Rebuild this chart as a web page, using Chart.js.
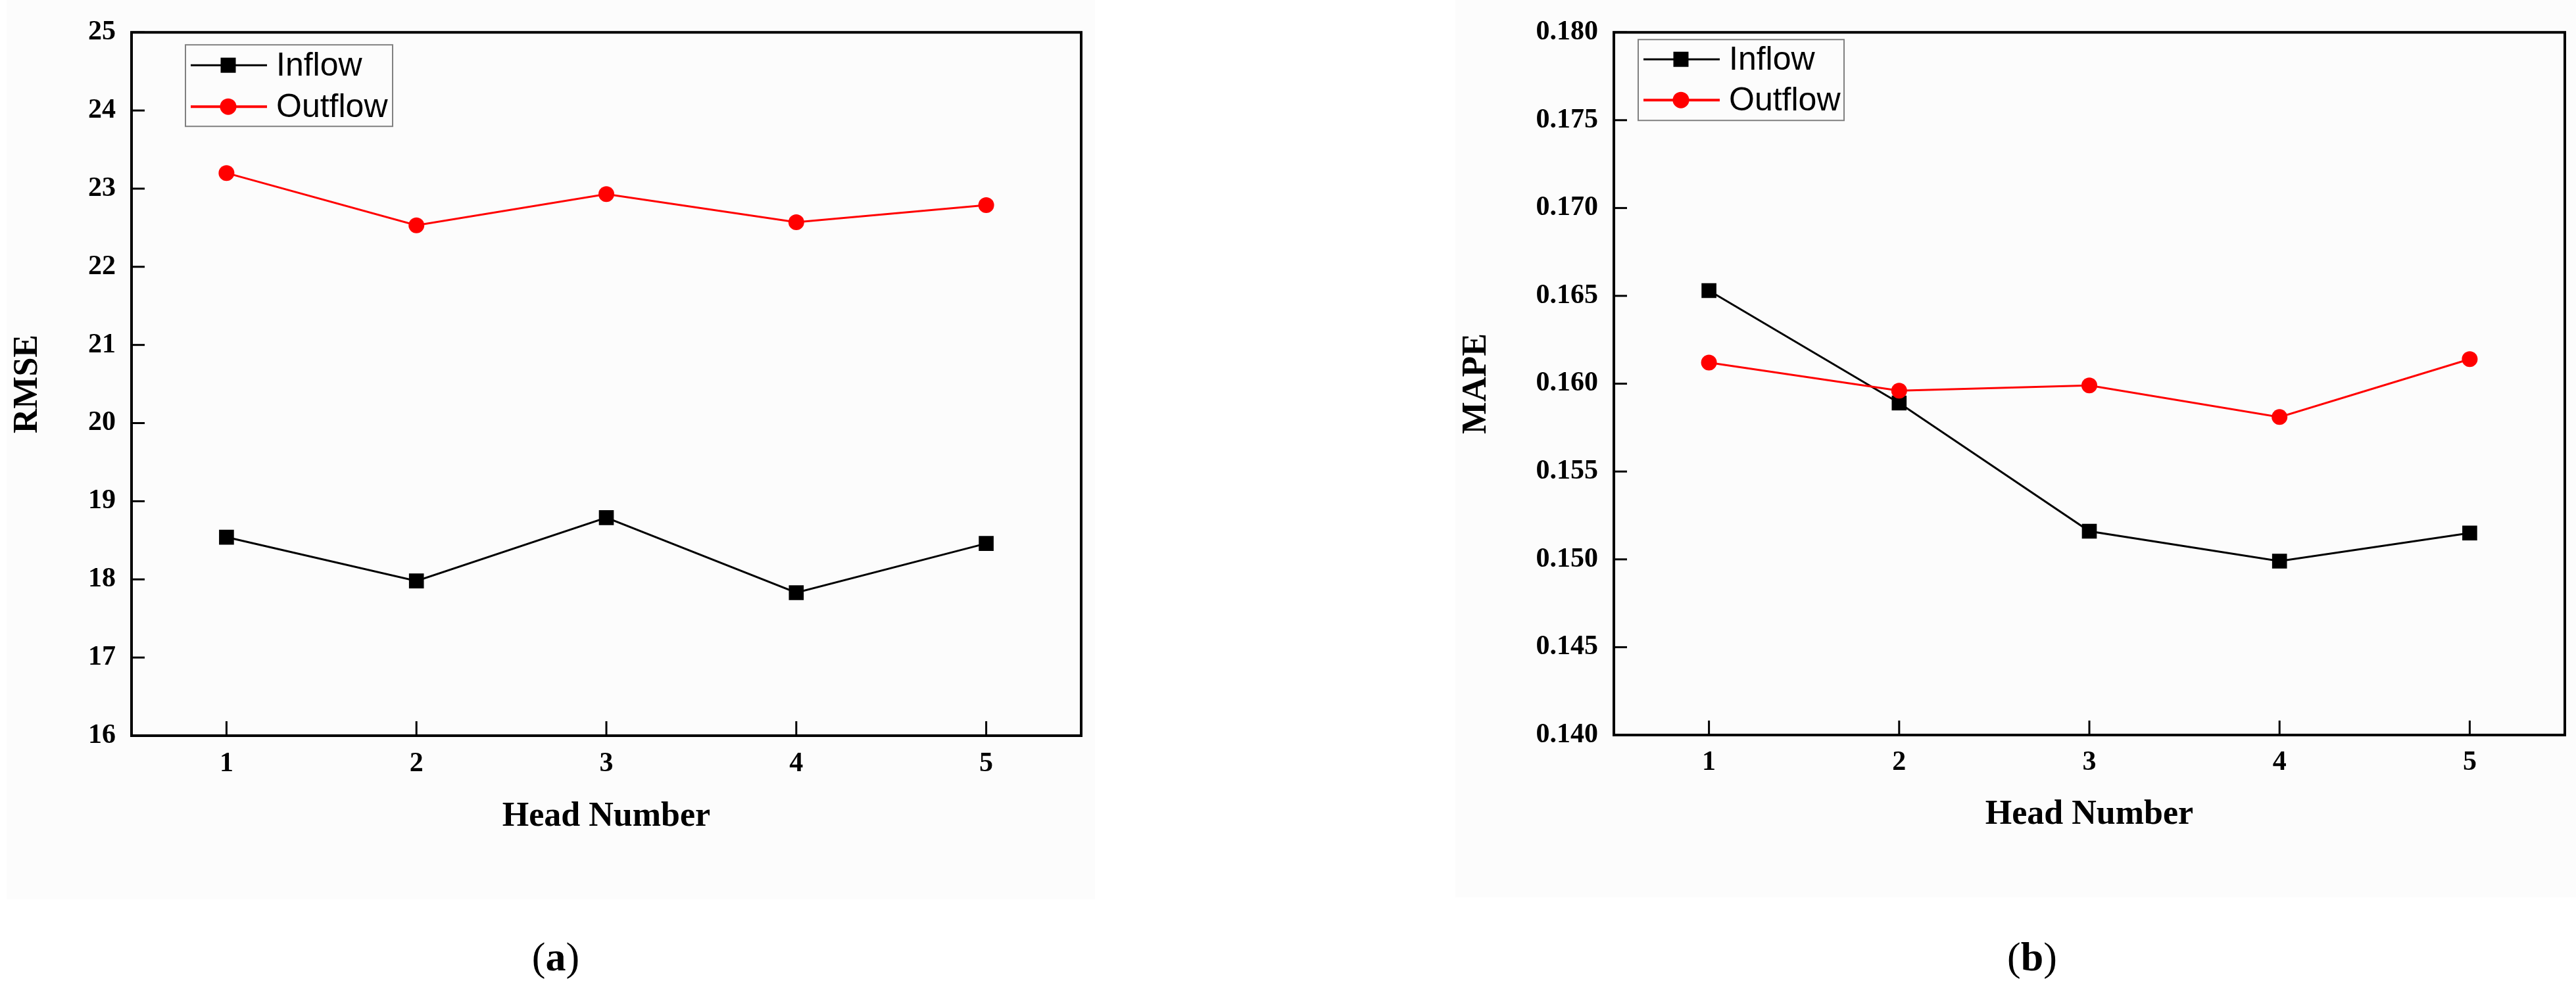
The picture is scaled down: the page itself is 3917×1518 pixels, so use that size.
<!DOCTYPE html>
<html>
<head>
<meta charset="utf-8">
<script src="https://cdn.jsdelivr.net/npm/chart.js@4.4.1/dist/chart.umd.min.js"></script>
<style>
  body { margin: 0; background: #fff; width: 3917px; height: 1518px; overflow: hidden; position: relative; font-family: 'Liberation Serif', serif; }
  .panel { position: absolute; background: #fcfcfc; }
  .box { position: absolute; top: 0; }
  .cap { position: absolute; font-size: 62px; transform: translate(-50%, -50%); color: #000; }
</style>
</head>
<body>
<div class="panel" style="left:10px;top:0;width:1655px;height:1368px"></div>
<div class="panel" style="left:2213px;top:0;width:1704px;height:1365px"></div>
<div class="box" style="left:0"><canvas id="rmse-chart" width="1700" height="1300"></canvas></div>
<div class="box" style="left:2150px"><canvas id="mape-chart" width="1767" height="1300"></canvas></div>
<div class="cap" style="left:845px;top:1455px">(<b>a</b>)</div>
<div class="cap" style="left:3090px;top:1455px">(<b>b</b>)</div>

<script>
// values
const headNumbers = ['1', '2', '3', '4', '5'];
const rmseInflow = [18.54, 17.98, 18.79, 17.83, 18.46];
const rmseOutflow = [23.20, 22.53, 22.93, 22.57, 22.79];
const mapeInflow = [0.1653, 0.1589, 0.1516, 0.1499, 0.1515];
const mapeOutflow = [0.1612, 0.1596, 0.1599, 0.1581, 0.1614];
const rmseTicks = [16, 17, 18, 19, 20, 21, 22, 23, 24, 25];
const mapeTicks = [0.140, 0.145, 0.150, 0.155, 0.160, 0.165, 0.170, 0.175, 0.180];

const tickFont = { family: 'Liberation Serif', size: 42, weight: 'bold' };
const titleFont = { family: 'Liberation Serif', size: 52, weight: 'bold' };

// box round the plot + inward tick marks
const frameBox = {
    id: 'frameBox',
    afterDraw(chart) {
        const { ctx, chartArea: a, scales } = chart;
        ctx.save();
        ctx.strokeStyle = '#000';
        ctx.lineWidth = 3;
        scales.y.ticks.forEach(t => {
            const py = scales.y.getPixelForValue(t.value);
            ctx.beginPath();
            ctx.moveTo(a.left, py);
            ctx.lineTo(a.left + 20, py);
            ctx.stroke();
        });
        scales.x.ticks.forEach((t, i) => {
            const px = scales.x.getPixelForTick(i);
            ctx.beginPath();
            ctx.moveTo(px, a.bottom);
            ctx.lineTo(px, a.bottom - 22);
            ctx.stroke();
        });
        ctx.lineWidth = 4;
        ctx.strokeRect(a.left, a.top, a.right - a.left, a.bottom - a.top);
        ctx.restore();
    }
};

// Origin-style legend: line with marker, framed in grey
const boxLegend = {
    id: 'boxLegend',
    afterDraw(chart, args, opts) {
        const { ctx, chartArea: a } = chart;
        const x0 = a.left + opts.x, y0 = a.top + opts.y;
        ctx.save();
        ctx.strokeStyle = '#808080';
        ctx.lineWidth = 2;
        ctx.strokeRect(x0, y0, opts.w, opts.h);
        chart.data.datasets.forEach((ds, i) => {
            const ry = y0 + opts.rows[i];
            ctx.strokeStyle = ds.borderColor;
            ctx.lineWidth = ds.legendLine;
            ctx.beginPath();
            ctx.moveTo(x0 + 8, ry);
            ctx.lineTo(x0 + 124, ry);
            ctx.stroke();
            ctx.fillStyle = ds.borderColor;
            const mx = x0 + 65;
            if (ds.pointStyle === 'rect') {
                ctx.fillRect(mx - 11.5, ry - 11.5, 23, 23);
            } else {
                ctx.beginPath();
                ctx.arc(mx, ry, 12.5, 0, Math.PI * 2);
                ctx.fill();
            }
            ctx.fillStyle = '#000';
            ctx.font = '50px "Liberation Sans"';
            ctx.textBaseline = 'middle';
            ctx.fillText(ds.label, x0 + 138, ry + 2);
        });
        ctx.restore();
    }
};

function makeChart(id, inflow, outflow, yTicks, yLabel, fmt, lay) {
    const ctx = document.getElementById(id).getContext('2d');
    return new Chart(ctx, {
        type: 'line',
        data: {
            labels: headNumbers,
            datasets: [
                {
                    label: 'Inflow',
                    data: inflow,
                    borderColor: '#000000',
                    backgroundColor: '#000000',
                    borderWidth: 3,
                    pointStyle: 'rect',
                    pointRadius: 16,
                    pointBorderWidth: 0,
                    legendLine: 3,
                    order: 1,
                    tension: 0
                },
                {
                    label: 'Outflow',
                    data: outflow,
                    borderColor: '#ff0000',
                    backgroundColor: '#ff0000',
                    borderWidth: 3,
                    pointStyle: 'circle',
                    pointRadius: 12,
                    pointBorderWidth: 0,
                    legendLine: 4,
                    order: 0,
                    tension: 0
                }
            ]
        },
        options: {
            responsive: false,
            animation: false,
            layout: { padding: { top: lay.top, right: lay.right, left: 0, bottom: 0 } },
            plugins: {
                legend: { display: false },
                tooltip: { enabled: false },
                boxLegend: lay.legend
            },
            scales: {
                x: {
                    type: 'category',
                    offset: true,
                    afterFit: s => { s.height = lay.xHeight; },
                    grid: { display: false, drawTicks: false },
                    border: { display: false },
                    ticks: { font: tickFont, color: '#000', padding: lay.xPad, maxRotation: 0 },
                    title: {
                        display: true, text: 'Head Number', font: titleFont, color: '#000',
                        padding: { top: 0, bottom: lay.xTitlePad }
                    }
                },
                y: {
                    min: yTicks[0],
                    max: yTicks[yTicks.length - 1],
                    afterBuildTicks: s => { s.ticks = yTicks.map(v => ({ value: v })); },
                    afterFit: s => { s.width = lay.yWidth; },
                    grid: { display: false, drawTicks: false },
                    border: { display: false },
                    ticks: { font: tickFont, color: '#000', padding: 24, callback: fmt },
                    title: {
                        display: true, text: yLabel, font: titleFont, color: '#000',
                        padding: { top: lay.yTitlePad, bottom: 0 }
                    }
                }
            }
        },
        plugins: [frameBox, boxLegend]
    });
}

makeChart('rmse-chart', rmseInflow, rmseOutflow, rmseTicks, 'RMSE', v => String(v), {
    top: 43, right: 56, yWidth: 200, xHeight: 181, xPad: 18, xTitlePad: 26, yTitlePad: 11,
    legend: { x: 82, y: 19, w: 315, h: 124, rows: [31, 94] }
});

makeChart('mape-chart', mapeInflow, mapeOutflow, mapeTicks, 'MAPE', v => Number(v).toFixed(3), {
    top: 46, right: 17, yWidth: 304, xHeight: 182, xPad: 17, xTitlePad: 29, yTitlePad: 64,
    legend: { x: 37, y: 11, w: 313, h: 123, rows: [30, 92] }
});
</script>
</body>
</html>
